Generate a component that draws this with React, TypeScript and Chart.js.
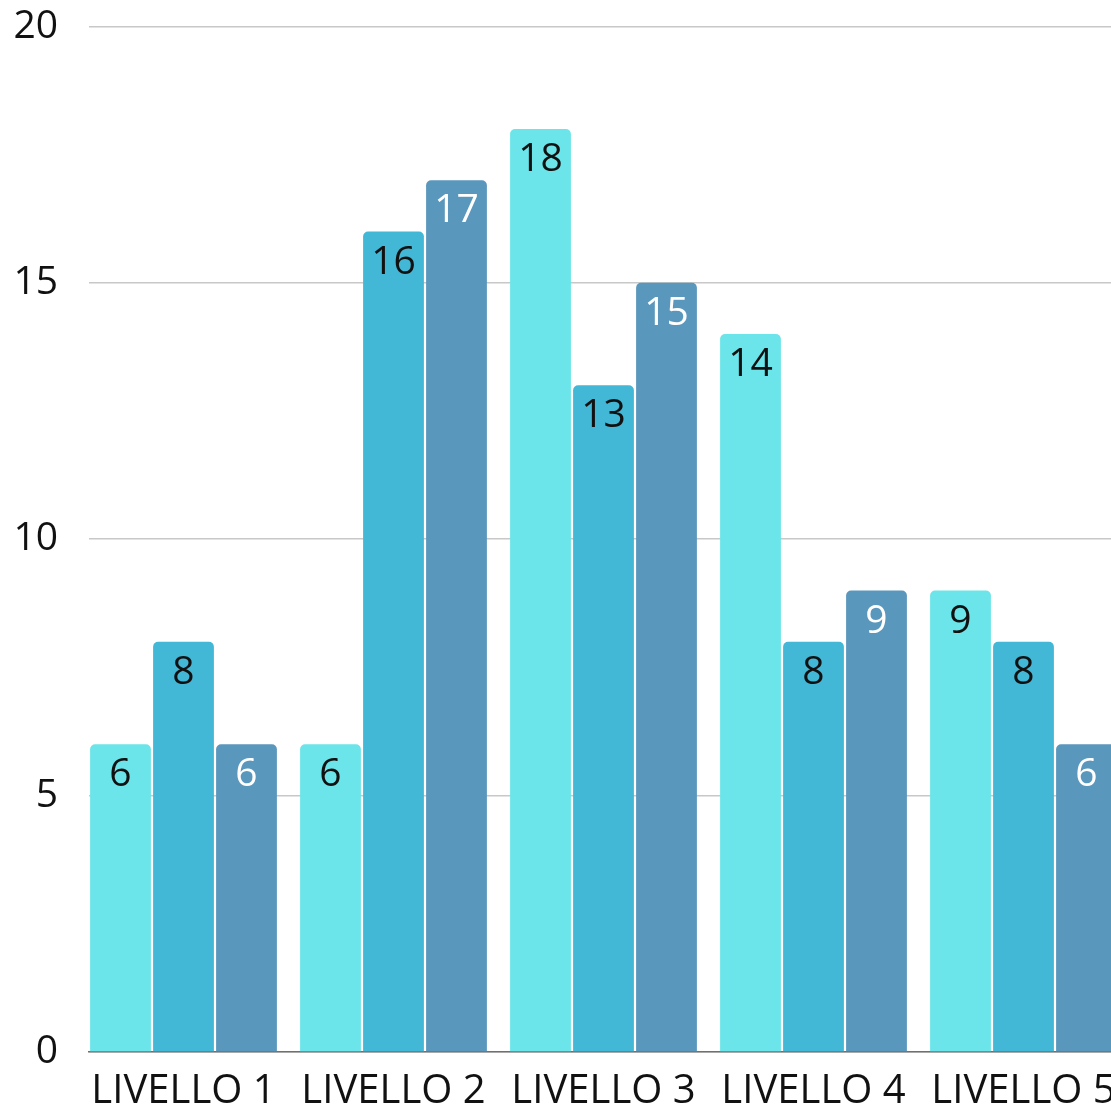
import React, { useEffect, useRef } from "react";
import { Chart, registerables } from "chart.js";

Chart.register(...registerables);

const categories = ["LIVELLO 1", "LIVELLO 2", "LIVELLO 3", "LIVELLO 4", "LIVELLO 5"];
const series1 = [6, 6, 18, 14, 9];
const series2 = [8, 16, 13, 8, 8];
const series3 = [6, 17, 15, 9, 6];
const yTicks = [0, 5, 10, 15, 20];

const colors = ["#6be5e9", "#43b7d6", "#5a97bd"];
const labelColors = ["#111111", "#111111", "#ffffff"];
const FONT = "'Open Sans', sans-serif";

const valueLabels = {
  id: "valueLabels",
  afterDatasetsDraw(chart: any) {
    const ctx = chart.ctx;
    ctx.save();
    ctx.font = `39px ${FONT}`;
    ctx.textAlign = "center";
    ctx.textBaseline = "middle";
    chart.data.datasets.forEach((ds: any, di: number) => {
      const meta = chart.getDatasetMeta(di);
      meta.data.forEach((el: any, i: number) => {
        const v = ds.data[i].y;
        ctx.fillStyle = labelColors[di];
        ctx.fillText(String(v), el.x, el.y + 31);
      });
    });
    ctx.restore();
  },
};

export default function App() {
  const ref = useRef<HTMLCanvasElement | null>(null);
  useEffect(() => {
    if (!ref.current) return;
    const toPts = (arr: number[]) => arr.map((v, i) => ({ x: i, y: v }));
    const chart = new Chart(ref.current, {
      type: "bar",
      data: {
        datasets: [series1, series2, series3].map((s, i) => ({
          label: `S${i + 1}`,
          data: toPts(s),
          backgroundColor: colors[i],
          borderRadius: { topLeft: 5, topRight: 5, bottomLeft: 0, bottomRight: 0 },
          borderSkipped: "start",
          barPercentage: 0.965,
          categoryPercentage: 0.9,
        })),
      },
      options: {
        animation: false,
        responsive: false,
        maintainAspectRatio: false,
        layout: { padding: { top: 2, left: 0, right: 0, bottom: 0 } },
        plugins: { legend: { display: false }, tooltip: { enabled: false } },
        scales: {
          x: {
            type: "linear",
            offset: false,
            min: -0.45,
            max: 4.55,
            grid: { display: false, drawTicks: false, offset: false },
            border: { display: true, color: "#707070", width: 1.5 },
            afterBuildTicks: (scale: any) => {
              scale.ticks = categories.map((_, i) => ({ value: i }));
            },
            afterFit: (scale: any) => {
              scale.height = 58;
            },
            ticks: {
              autoSkip: false,
              maxRotation: 0,
              padding: 16,
              color: "#111111",
              font: { family: FONT, size: 40 },
              callback: (v: any) => categories[Math.round(v)] ?? "",
            },
          },
          y: {
            min: 0,
            max: 20,
            afterBuildTicks: (scale: any) => {
              scale.ticks = yTicks.map((v) => ({ value: v }));
            },
            afterFit: (scale: any) => {
              scale.width = 89;
            },
            grid: { color: "#c8c8c8", lineWidth: 1.5, drawTicks: false },
            border: { display: false },
            ticks: {
              padding: 31,
              color: "#111111",
              font: { family: FONT, size: 39 },
            },
          },
        },
      },
      plugins: [valueLabels],
    } as any);
    return () => chart.destroy();
  }, []);
  return (
    <div style={{ position: "absolute", left: 0, top: 0, width: 1111, height: 1110, overflow: "hidden", background: "#fff" }}>
      <canvas ref={ref} width={1139} height={1138} style={{ display: "block", width: 1139, height: 1138, marginTop: -28 }} />
    </div>
  );
}
